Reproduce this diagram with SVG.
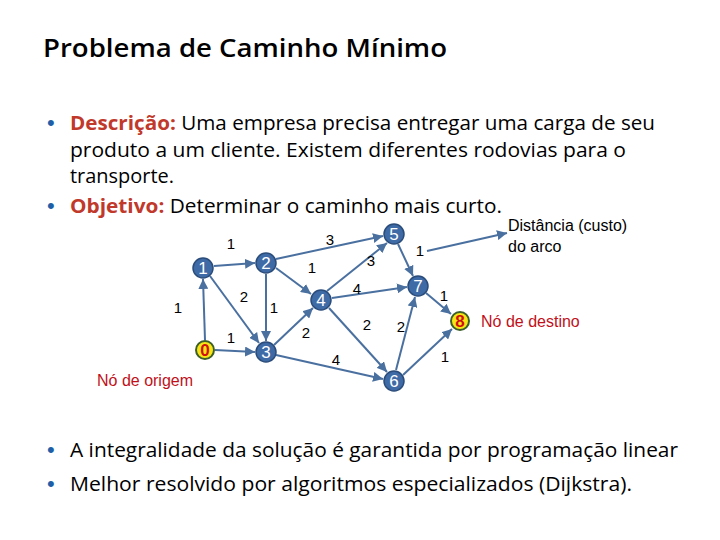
<svg xmlns="http://www.w3.org/2000/svg" width="720" height="540" viewBox="0 0 720 540">
<style>
.t{font-family:"Open Sans","Liberation Sans",sans-serif;fill:#000}
.b{font-family:"Liberation Sans",sans-serif;fill:#1f5fa8;font-size:22px}
.e{stroke:#4a70a0;stroke-width:2;fill:none;marker-end:url(#a)}
.n circle{fill:#3e6aa6;stroke:#2a4c7a;stroke-width:1.5}
.n text{font-family:"Liberation Sans",sans-serif;font-size:17px;fill:#fff;text-anchor:middle}
.y circle{fill:#f5e614;stroke:#3d5f2a;stroke-width:2}
.y text{fill:#d01010;font-weight:bold}
.w{font-family:"Liberation Sans",sans-serif;font-size:15px;fill:#000;text-anchor:middle}
.r{font-family:"Liberation Sans",sans-serif;font-size:16px;fill:#c0101a}
</style>
<defs><marker id="a" viewBox="0 0 10 10" refX="10" refY="5" markerWidth="5" markerHeight="5" orient="auto"><path d="M0,0L10,5L0,10z" fill="#4a70a0"/></marker></defs>
<rect width="720" height="540" fill="#fff"/>
<text class="t" x="43" y="57" font-size="25" font-weight="600" textLength="404" lengthAdjust="spacingAndGlyphs">Problema de Caminho Mínimo</text>
<g class="t" font-size="20">
<text class="b" x="47" y="130">•</text>
<text x="70" y="130" textLength="585" lengthAdjust="spacingAndGlyphs"><tspan fill="#c0392b" font-weight="bold">Descrição:</tspan> Uma empresa precisa entregar uma carga de seu</text>
<text x="70" y="157" textLength="556" lengthAdjust="spacingAndGlyphs">produto a um cliente. Existem diferentes rodovias para o</text>
<text x="70" y="183" textLength="104" lengthAdjust="spacingAndGlyphs">transporte.</text>
<text class="b" x="47" y="213">•</text>
<text x="70" y="213" textLength="432" lengthAdjust="spacingAndGlyphs"><tspan fill="#c0392b" font-weight="bold">Objetivo:</tspan> Determinar o caminho mais curto.</text>
<text class="b" x="47" y="457">•</text>
<text x="70" y="457" textLength="608" lengthAdjust="spacingAndGlyphs">A integralidade da solução é garantida por programação linear</text>
<text class="b" x="47" y="491">•</text>
<text x="70" y="491" textLength="562" lengthAdjust="spacingAndGlyphs">Melhor resolvido por algoritmos especializados (Dijkstra).</text>
</g>
<g id="connectors">
<line class="e" x1="205" y1="340" x2="203" y2="279"/>
<line class="e" x1="215" y1="350" x2="255" y2="352"/>
<line class="e" x1="214" y1="266" x2="255" y2="263"/>
<line class="e" x1="210" y1="276" x2="259" y2="343"/>
<line class="e" x1="266" y1="274" x2="266" y2="341"/>
<line class="e" x1="276" y1="268" x2="311" y2="294"/>
<line class="e" x1="276" y1="259" x2="383" y2="236"/>
<line class="e" x1="274" y1="345" x2="313" y2="308"/>
<line class="e" x1="276" y1="355" x2="383" y2="379"/>
<line class="e" x1="327" y1="291" x2="387" y2="243"/>
<line class="e" x1="332" y1="298" x2="407" y2="287"/>
<line class="e" x1="329" y1="308" x2="387" y2="372"/>
<line class="e" x1="398" y1="244" x2="413" y2="276"/>
<line class="e" x1="396" y1="370" x2="415" y2="297"/>
<line class="e" x1="426" y1="293" x2="451" y2="314"/>
<line class="e" x1="403" y1="375" x2="452" y2="329"/>
<line class="e" x1="427" y1="251" x2="507" y2="233"/>
</g>
<g class="w">
<text x="231" y="249">1</text><text x="330" y="245">3</text><text x="312" y="273">1</text><text x="371" y="266">3</text>
<text x="420" y="256">1</text><text x="357" y="294">4</text><text x="444" y="301">1</text><text x="244" y="302">2</text>
<text x="178" y="313">1</text><text x="274" y="313">1</text><text x="367" y="330">2</text><text x="401" y="332">2</text>
<text x="306" y="338">2</text><text x="231" y="343">1</text><text x="336" y="365">4</text><text x="445" y="362">1</text>
</g>
<g id="n0" class="n y"><circle cx="205" cy="350" r="9"/><text x="205" y="356">0</text></g>
<g id="n1" class="n"><circle cx="203" cy="268" r="10"/><text x="203" y="274">1</text></g>
<g id="n2" class="n"><circle cx="266" cy="263" r="10"/><text x="266" y="269">2</text></g>
<g id="n3" class="n"><circle cx="266" cy="352" r="10"/><text x="266" y="358">3</text></g>
<g id="n4" class="n"><circle cx="321" cy="300" r="10"/><text x="321" y="306">4</text></g>
<g id="n5" class="n"><circle cx="394" cy="234" r="10"/><text x="394" y="240">5</text></g>
<g id="n6" class="n"><circle cx="394" cy="381" r="10"/><text x="394" y="387">6</text></g>
<g id="n7" class="n"><circle cx="418" cy="286" r="10"/><text x="418" y="292">7</text></g>
<g id="n8" class="n y"><circle cx="460" cy="321" r="9"/><text x="460" y="327">8</text></g>
<text class="r" x="97" y="386">Nó de origem</text>
<text class="r" x="481" y="327">Nó de destino</text>
<text x="508" y="231" font-family="Liberation Sans,sans-serif" font-size="16">Distância (custo)</text>
<text x="508" y="252" font-family="Liberation Sans,sans-serif" font-size="16">do arco</text>
</svg>
